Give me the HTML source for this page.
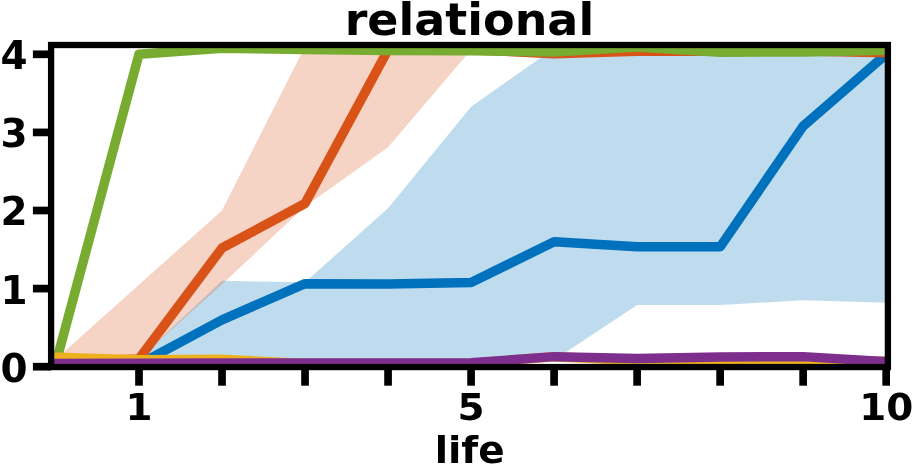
<!DOCTYPE html>
<html lang="en"><head><meta charset="utf-8"><title>relational</title>
<style>
html,body{margin:0;padding:0;background:#fff;}
body{width:914px;height:472px;overflow:hidden;}
svg{display:block;}
</style></head><body>
<svg width="914" height="472" viewBox="0 0 914 472">
<rect width="914" height="472" fill="#fff"/>
<defs><clipPath id="ax"><rect x="51.1" y="45.0" width="836.8" height="322.05"/></clipPath></defs>
<g clip-path="url(#ax)">
<polygon points="55.98,362.80 139.00,358.89 222.02,280.79 305.04,282.35 388.06,208.16 471.08,106.63 554.10,48.36 637.12,49.61 720.14,49.61 803.16,49.61 886.18,49.61 886.18,302.66 803.16,300.31 720.14,305.00 637.12,305.00 554.10,359.91 471.08,362.17 388.06,362.17 305.04,362.17 222.02,362.17 139.00,358.89 55.98,362.80" fill="#0072BD" fill-opacity="0.25"/>
<polygon points="55.98,358.89 139.00,284.69 222.02,210.50 305.04,46.49 388.06,49.61 471.08,49.61 554.10,49.61 637.12,49.61 720.14,49.61 803.16,49.61 886.18,49.61 886.18,50.40 803.16,50.40 720.14,50.40 637.12,50.40 554.10,50.40 471.08,49.85 388.06,147.24 305.04,206.60 222.02,284.30 139.00,358.89 55.98,362.80" fill="#D95319" fill-opacity="0.25"/>
<polyline points="55.98,364.36 139.00,364.36 222.02,319.84 305.04,283.68 388.06,284.07 471.08,282.51 554.10,241.74 637.12,246.82 720.14,246.82 803.16,126.15 886.18,54.30" fill="none" stroke="#0072BD" stroke-width="9.5" stroke-linejoin="round" stroke-linecap="square"/>
<polyline points="55.98,362.01 139.00,358.89 222.02,247.99 305.04,203.47 388.06,49.77 471.08,49.77 554.10,53.68 637.12,51.25 720.14,51.33 803.16,50.94 886.18,52.82" fill="none" stroke="#D95319" stroke-width="9.5" stroke-linejoin="round" stroke-linecap="square"/>
<polyline points="55.98,362.80 139.00,54.30 222.02,48.21 305.04,49.54 388.06,50.55 471.08,50.71 554.10,52.04 637.12,47.04 720.14,52.19 803.16,52.04 886.18,50.24" fill="none" stroke="#77AC30" stroke-width="9.5" stroke-linejoin="round" stroke-linecap="square"/>
<line x1="180.51" y1="49.5" x2="894.48" y2="49.5" stroke="#77AC30" stroke-width="4"/>
<polyline points="55.98,357.25 139.00,359.67 222.02,359.20 305.04,363.58 388.06,363.58 471.08,363.19 554.10,356.70 637.12,360.84 720.14,361.62 803.16,361.62 886.18,361.08" fill="none" stroke="#EDB120" stroke-width="9.5" stroke-linejoin="round" stroke-linecap="square"/>
<polyline points="55.98,363.42 139.00,363.26 222.02,363.03 305.04,362.95 388.06,362.95 471.08,362.80 554.10,356.63 637.12,358.42 720.14,357.09 803.16,356.63 886.18,361.62" fill="none" stroke="#7E2F8E" stroke-width="9.5" stroke-linejoin="round" stroke-linecap="square"/>
</g>
<line x1="139.00" y1="367.05" x2="139.00" y2="385.7" stroke="#000" stroke-width="7.7"/>
<line x1="222.02" y1="367.05" x2="222.02" y2="385.7" stroke="#000" stroke-width="7.7"/>
<line x1="305.04" y1="367.05" x2="305.04" y2="385.7" stroke="#000" stroke-width="7.7"/>
<line x1="388.06" y1="367.05" x2="388.06" y2="385.7" stroke="#000" stroke-width="7.7"/>
<line x1="471.08" y1="367.05" x2="471.08" y2="385.7" stroke="#000" stroke-width="7.7"/>
<line x1="554.10" y1="367.05" x2="554.10" y2="385.7" stroke="#000" stroke-width="7.7"/>
<line x1="637.12" y1="367.05" x2="637.12" y2="385.7" stroke="#000" stroke-width="7.7"/>
<line x1="720.14" y1="367.05" x2="720.14" y2="385.7" stroke="#000" stroke-width="7.7"/>
<line x1="803.16" y1="367.05" x2="803.16" y2="385.7" stroke="#000" stroke-width="7.7"/>
<line x1="886.18" y1="367.05" x2="886.18" y2="385.7" stroke="#000" stroke-width="7.7"/>
<line x1="51.1" y1="366.70" x2="32.9" y2="366.70" stroke="#000" stroke-width="7.7"/>
<line x1="51.1" y1="288.60" x2="32.9" y2="288.60" stroke="#000" stroke-width="7.7"/>
<line x1="51.1" y1="210.50" x2="32.9" y2="210.50" stroke="#000" stroke-width="7.7"/>
<line x1="51.1" y1="132.40" x2="32.9" y2="132.40" stroke="#000" stroke-width="7.7"/>
<line x1="51.1" y1="54.30" x2="32.9" y2="54.30" stroke="#000" stroke-width="7.7"/>
<rect x="51.1" y="45.0" width="836.8" height="322.05" fill="none" stroke="#000" stroke-width="6.3" stroke-linejoin="miter"/>
<g font-family="'DejaVu Sans','Liberation Sans',sans-serif" font-weight="bold" fill="#000">
<text transform="translate(469.4,34.9) scale(1,0.975)" font-size="46" text-anchor="middle">relational</text>
<text transform="translate(27.6,381.60) scale(1,0.985)" font-size="38.9" text-anchor="end">0</text>
<text transform="translate(27.6,303.50) scale(1,0.985)" font-size="38.9" text-anchor="end">1</text>
<text transform="translate(27.6,225.40) scale(1,0.985)" font-size="38.9" text-anchor="end">2</text>
<text transform="translate(27.6,147.30) scale(1,0.985)" font-size="38.9" text-anchor="end">3</text>
<text transform="translate(27.6,69.20) scale(1,0.985)" font-size="38.9" text-anchor="end">4</text>
<text transform="translate(139.00,420.0) scale(1,0.98)" font-size="38.9" text-anchor="middle">1</text>
<text transform="translate(471.08,420.0) scale(1,0.98)" font-size="38.9" text-anchor="middle">5</text>
<text transform="translate(886.18,420.0) scale(1,0.98)" font-size="38.9" text-anchor="middle">10</text>
<text transform="translate(469.6,462.9) scale(1,0.97)" font-size="38.9" text-anchor="middle">life</text>
</g>
</svg>
</body></html>
